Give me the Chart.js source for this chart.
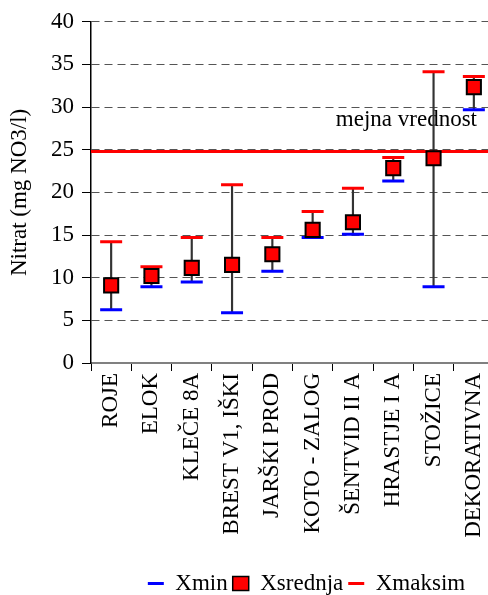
<!DOCTYPE html>
<html>
<head>
<meta charset="utf-8">
<script src="https://cdn.jsdelivr.net/npm/chart.js@4"></script>
<style>
html,body{margin:0;padding:0;background:#fff;overflow:hidden;}
#wrap{width:488px;height:595px;overflow:hidden;}
canvas{display:block;}
</style>
</head>
<body>
<div id="wrap"><canvas id="c" width="494" height="595"></canvas></div>
<script>
const categories = ["ROJE","ELOK","KLEČE 8A","BREST V1, IŠKI","JARŠKI PROD","KOTO - ZALOG","ŠENTVID II A","HRASTJE I A","STOŽICE","DEKORATIVNA"];
const xmin = [6.25, 8.95, 9.5, 5.9, 10.75, 14.7, 15.1, 21.35, 8.95, 29.7];
const xsrednja = [9.1, 10.2, 11.15, 11.5, 12.75, 15.6, 16.5, 22.85, 24.0, 32.35];
const xmaksim = [14.2, 11.27, 14.7, 20.9, 14.7, 17.75, 20.5, 24.1, 34.15, 33.6];
const mejnaVrednost = 24.8;
const yTicks = [0,5,10,15,20,25,30,35,40];

const FONT = "'Liberation Serif', 'Times New Roman', serif";

const limitPlugin = {
  id: 'limitLine',
  afterLayout(chart) {
    const lg = chart.legend;
    if (lg) {
      lg.left = 125;
      lg.right = 488;
      lg.top += 10;
      lg.bottom += 10;
    }
  },
  beforeDatasetsDraw(chart) {
    const {ctx, chartArea, scales} = chart;
    const y = scales.y.getPixelForValue(mejnaVrednost);
    ctx.save();
    ctx.strokeStyle = '#ff0000';
    ctx.lineWidth = 3;
    ctx.beginPath();
    ctx.moveTo(chartArea.left, y);
    ctx.lineTo(chartArea.right, y);
    ctx.stroke();
    ctx.fillStyle = '#000';
    ctx.font = '23px ' + FONT;
    ctx.textAlign = 'right';
    ctx.textBaseline = 'alphabetic';
    ctx.fillText('mejna vrednost', chartArea.right - 17, y - 25);
    ctx.restore();
  }
};

new Chart(document.getElementById('c'), {
  type: 'line',
  data: {
    labels: categories,
    datasets: [
      {
        label: 'Xmin', data: xmin, showLine: false, order: 2,
        pointStyle: 'line', pointRadius: 11, pointHoverRadius: 11,
        borderColor: '#0000ff', backgroundColor: '#0000ff', pointBorderWidth: 3, borderWidth: 3
      },
      {
        label: 'Xsrednja', data: xsrednja, showLine: false, order: 0,
        pointStyle: 'rect', pointRadius: 10, pointHoverRadius: 10,
        borderColor: '#000000', backgroundColor: '#ff0000', pointBorderWidth: 2, borderWidth: 2
      },
      {
        label: 'Xmaksim', data: xmaksim, showLine: false, order: 1,
        pointStyle: 'line', pointRadius: 11, pointHoverRadius: 11,
        borderColor: '#ff0000', backgroundColor: '#ff0000', pointBorderWidth: 3, borderWidth: 3
      },
      {
        type: 'bar', label: 'range', order: 5,
        data: xmin.map((m, i) => [m, xmaksim[i]]),
        backgroundColor: '#333333', barThickness: 1.5
      }
    ]
  },
  options: {
    responsive: false,
    animation: false,
    events: [],
    layout: { autoPadding: false, padding: { top: 21, right: 0, left: 0, bottom: 0 } },
    plugins: {
      tooltip: { enabled: false },
      legend: {
        position: 'bottom',
        align: 'center',
        labels: {
          color: '#000',
          font: { family: FONT, size: 23 },
          usePointStyle: true,
          boxHeight: 14,
          pointStyleWidth: 16,
          padding: 5,
          generateLabels() {
            return [
              { text: 'Xmin', pointStyle: 'line', strokeStyle: '#0000ff', fillStyle: '#0000ff', lineWidth: 3, fontColor: '#000' },
              { text: 'Xsrednja', pointStyle: 'rect', strokeStyle: '#000000', fillStyle: '#ff0000', lineWidth: 1.5, fontColor: '#000' },
              { text: 'Xmaksim', pointStyle: 'line', strokeStyle: '#ff0000', fillStyle: '#ff0000', lineWidth: 3, fontColor: '#000' }
            ];
          }
        }
      }
    },
    scales: {
      x: {
        offset: true,
        grid: { offset: true, drawOnChartArea: false, color: '#000', tickLength: 8, tickColor: '#000' },
        border: { color: '#808080', width: 2 },
        ticks: { color: '#000', font: { family: FONT, size: 23 }, minRotation: 90, maxRotation: 90, autoSkip: false, padding: 2 },
        afterFit(scale) { scale.height = 194; scale.paddingRight = 0; }
      },
      y: {
        min: 0, max: 40,
        afterBuildTicks(scale) { scale.ticks = yTicks.map(v => ({ value: v })); },
        grid: { color: '#555', lineWidth: 1, tickLength: 9, tickColor: '#000' },
        border: { color: '#000', width: 1.5, dash: [8, 5] },
        ticks: { color: '#000', font: { family: FONT, size: 23 }, padding: 8 },
        title: { display: true, text: 'Nitrat (mg NO3/l)', color: '#000', font: { family: FONT, size: 23 }, padding: { top: 6, bottom: 0 } },
        afterFit(scale) { scale.width = 91; }
      }
    }
  },
  plugins: [limitPlugin]
});
</script>
</body>
</html>
